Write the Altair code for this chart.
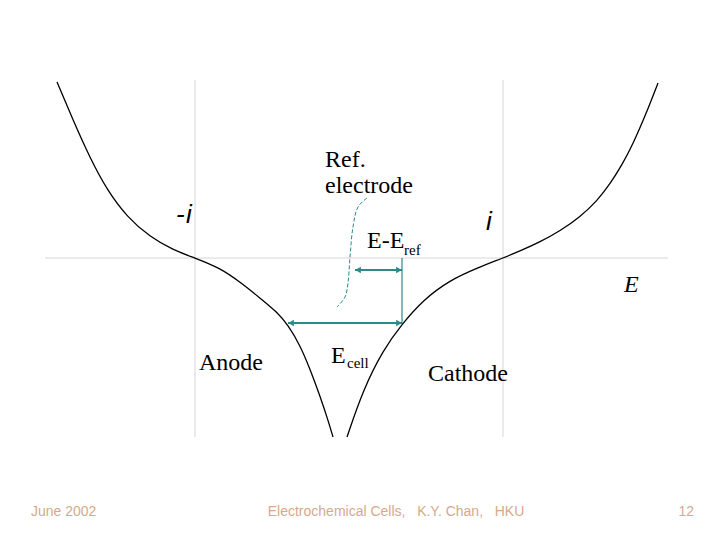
import altair as alt
import pandas as pd

# ---- data (diagram units: E to the right, i upward, i = 0 on the E axis) ----
anode_E = [57, 73, 90, 107, 127, 150, 173, 195, 220, 240, 260, 277, 288, 300, 310, 320, 328, 333]
anode_i = [176, 138, 100, 68, 41, 21, 8, 0, -10, -24, -40, -54, -67, -87, -111, -138, -162, -179]

cathode_E = [347, 363, 383, 402, 423, 450, 477, 503, 520, 540, 560, 580, 597, 610, 622, 633, 646, 658]
cathode_i = [-179, -132, -92, -66, -42, -22, -10, 0, 7, 16, 27, 41, 57, 74, 93, 114, 144, 175]

ref_E = [367, 358, 353, 350, 348, 345, 337]
ref_i = [60, 51, 31, 1, -25, -39, -49]

# axes: E axis (horizontal) and the two current axes (-i anode, i cathode)
e_axis = {"E": [45], "E2": [668], "i": [0]}
i_axes = {"E": [195, 503], "i": [178, 178], "i2": [-179, -179]}

# double arrows: E - E_ref and E_cell
arrows = {"E": [355, 288], "E2": [402, 402], "i": [-12, -65]}
cell_marker = {"E": [402], "i": [0], "i2": [-65]}

serif_text = ["Ref.", "electrode", "E-E", "Anode", "Cathode", "E"]
serif_E = [325, 325, 367, 199, 428, 331]
serif_i = [91, 65, 10, -112, -123, -105]

sub_text = ["ref", "cell"]
sub_E = [404, 347]
sub_i = [3, -110]

axis_label_text = ["E"]
axis_label_E = [624]
axis_label_i = [-34]

cur_text = ["-", "i"]
cur_E = [176, 186]
cur_i = [35, 35]
cur2_text = ["i"]
cur2_E = [486]
cur2_i = [28]

footer_text = ["June 2002", "Electrochemical Cells,\u00a0\u00a0 K.Y. Chan,\u00a0\u00a0 HKU", "12"]
footer_E = [31, 396, 694]
footer_i = [-258, -258, -258]
footer_align = ["left", "center", "right"]

# ---- chart ----
XS = alt.Scale(domain=[8, 712], nice=False, zero=False)
YS = alt.Scale(domain=[-274, 250], nice=False, zero=False)
TEAL = "#2b8a8a"


def X(f="E"):
    return alt.X(f"{f}:Q", scale=XS, axis=None)


def Y(f="i"):
    return alt.Y(f"{f}:Q", scale=YS, axis=None)


def curve(E, i, **kw):
    df = pd.DataFrame({"E": E, "i": i, "k": range(len(E))})
    return alt.Chart(df).mark_line(**kw).encode(x=X(), y=Y(), order="k:Q")


layers = []

layers.append(
    alt.Chart(pd.DataFrame(e_axis)).mark_rule(color="#d6d6d6", strokeWidth=1).encode(
        x=X(), x2="E2:Q", y=Y()
    )
)
layers.append(
    alt.Chart(pd.DataFrame(i_axes)).mark_rule(color="#d6d6d6", strokeWidth=1).encode(
        x=X(), y=Y(), y2="i2:Q"
    )
)

layers.append(curve(anode_E, anode_i, color="black", strokeWidth=1.3, interpolate="basis"))
layers.append(curve(cathode_E, cathode_i, color="black", strokeWidth=1.3, interpolate="basis"))
layers.append(curve(ref_E, ref_i, color=TEAL, strokeWidth=1, strokeDash=[4, 2], interpolate="catmull-rom"))

arr = pd.DataFrame(arrows)
layers.append(
    alt.Chart(arr).mark_rule(color=TEAL, strokeWidth=2.2).encode(x=X(), x2="E2:Q", y=Y())
)
layers.append(
    alt.Chart(arr).mark_point(shape="triangle-left", filled=True, color=TEAL, size=45, opacity=1, xOffset=3).encode(
        x=X(), y=Y()
    )
)
layers.append(
    alt.Chart(arr).mark_point(shape="triangle-right", filled=True, color=TEAL, size=45, opacity=1, xOffset=-3).encode(
        x=X("E2"), y=Y()
    )
)
layers.append(
    alt.Chart(pd.DataFrame(cell_marker)).mark_rule(color=TEAL, strokeWidth=1.2).encode(
        x=X(), y=Y(), y2="i2:Q"
    )
)


def texts(t, E, i, **kw):
    df = pd.DataFrame({"t": t, "E": E, "i": i})
    return alt.Chart(df).mark_text(baseline="alphabetic", **kw).encode(x=X(), y=Y(), text="t:N")


layers.append(texts(serif_text, serif_E, serif_i, font="Liberation Serif", fontSize=24, align="left", color="black"))
layers.append(texts(sub_text, sub_E, sub_i, font="Liberation Serif", fontSize=15, align="left", color="black"))
layers.append(texts(axis_label_text, axis_label_E, axis_label_i, font="Liberation Serif", fontSize=24,
                    fontStyle="italic", align="left", color="black"))
layers.append(texts(cur_text, cur_E, cur_i, font="Liberation Sans", fontSize=26,
                    fontStyle="italic", align="left", color="black"))
layers.append(texts(cur2_text, cur2_E, cur2_i, font="Liberation Sans", fontSize=26,
                    fontStyle="italic", align="left", color="black"))
for t, e, ii, a in zip(footer_text, footer_E, footer_i, footer_align):
    layers.append(texts([t], [e], [ii], font="Liberation Sans", fontSize=14, align=a, color="#d6a98c"))

chart = alt.layer(*layers).properties(
    width=704, height=524, padding=0, autosize=alt.AutoSizeParams(type="none"), background="white"
).configure_view(stroke=None)

chart.save("out.html", embed_options={"renderer": "svg", "actions": False})
